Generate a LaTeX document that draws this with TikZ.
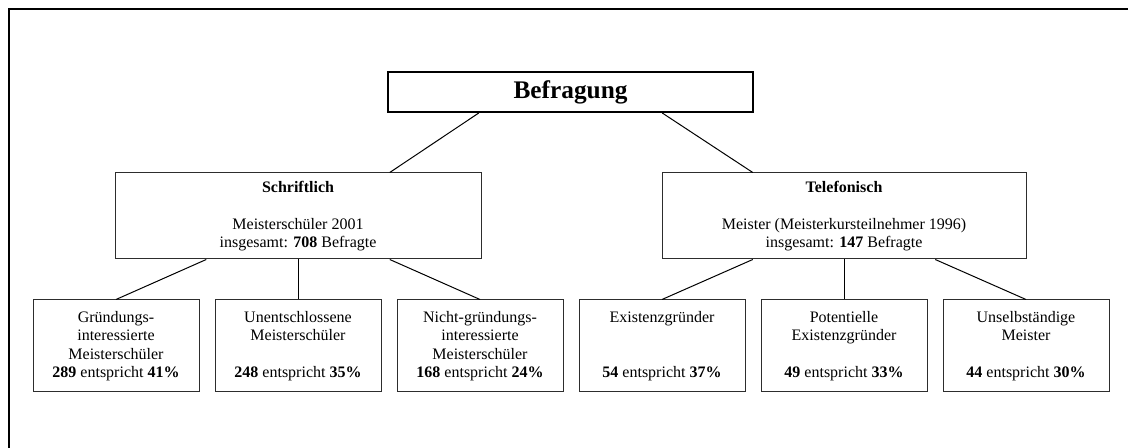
\documentclass[tikz,border=0pt]{standalone}
\usepackage{fontspec}
\setmainfont{Liberation Serif}
\usetikzlibrary{calc,positioning}
\definecolor{boxline}{RGB}{45,45,45}

\begin{document}
\begin{tikzpicture}[x=0.75pt, y=-0.75pt,
    box/.style={draw=boxline, line width=0.75pt, align=center, inner sep=0pt,
      font=\fontsize{12}{13.9}\selectfont},
    midbox/.style={box, minimum width=274.5pt, minimum height=64.5pt},
    leafbox/.style={box, minimum width=124.5pt, minimum height=69pt},
    link/.style={draw=black, line width=0.75pt}]
    \useasboundingbox (0,0) rectangle (1128,448);
    \draw[line width=1.5pt] (9,448) -- (9,9) -- (1128,9);

    \node[box, draw=black, line width=1.5pt, minimum width=273.75pt, minimum height=30pt,
      font=\fontsize{19}{22}\selectfont\bfseries] (survey) at (570.5,92) {Befragung};
    \node[midbox] (written) at (298,216)
      {\textbf{Schriftlich}\\~\\Meisterschüler 2001\\insgesamt: \textbf{708} Befragte};
    \node[midbox, minimum width=273pt] (phone) at (844,216)
      {\textbf{Telefonisch}\\~\\Meister (Meisterkursteilnehmer 1996)\\insgesamt: \textbf{147} Befragte};

    \foreach \name/\x/\txt in {
        keen/116/{Gründungs-\\interessierte\\Meisterschüler\\\textbf{289} entspricht \textbf{41\%}},
        unsure/298/{Unentschlossene\\Meisterschüler\\~\\\textbf{248} entspricht \textbf{35\%}},
        notkeen/480/{Nicht-gründungs-\\interessierte\\Meisterschüler\\\textbf{168} entspricht \textbf{24\%}},
        founder/662/{Existenzgründer\\~\\~\\\textbf{54} entspricht \textbf{37\%}},
        potential/844/{Potentielle\\Existenzgründer\\~\\\textbf{49} entspricht \textbf{33\%}},
        employed/1026/{Unselbständige\\Meister\\~\\\textbf{44} entspricht \textbf{30\%}}} {
      \node[leafbox] (\name) at (\x,346) {\txt};
    }

    % top level
    \draw[link] ($(survey.south west)!0.25!(survey.south east)$) -- ($(written.north west)!0.75!(written.north east)$);
    \draw[link] ($(survey.south west)!0.75!(survey.south east)$) -- ($(phone.north west)!0.25!(phone.north east)$);

    % second level
    \draw[link] ($(written.south west)!0.25!(written.south east)$) -- (keen.north);
    \draw[link] (written.south) -- (unsure.north);
    \draw[link] ($(written.south west)!0.75!(written.south east)$) -- (notkeen.north);
    \draw[link] ($(phone.south west)!0.25!(phone.south east)$) -- (founder.north);
    \draw[link] (phone.south) -- (potential.north);
    \draw[link] ($(phone.south west)!0.75!(phone.south east)$) -- (employed.north);
\end{tikzpicture}
\end{document}
